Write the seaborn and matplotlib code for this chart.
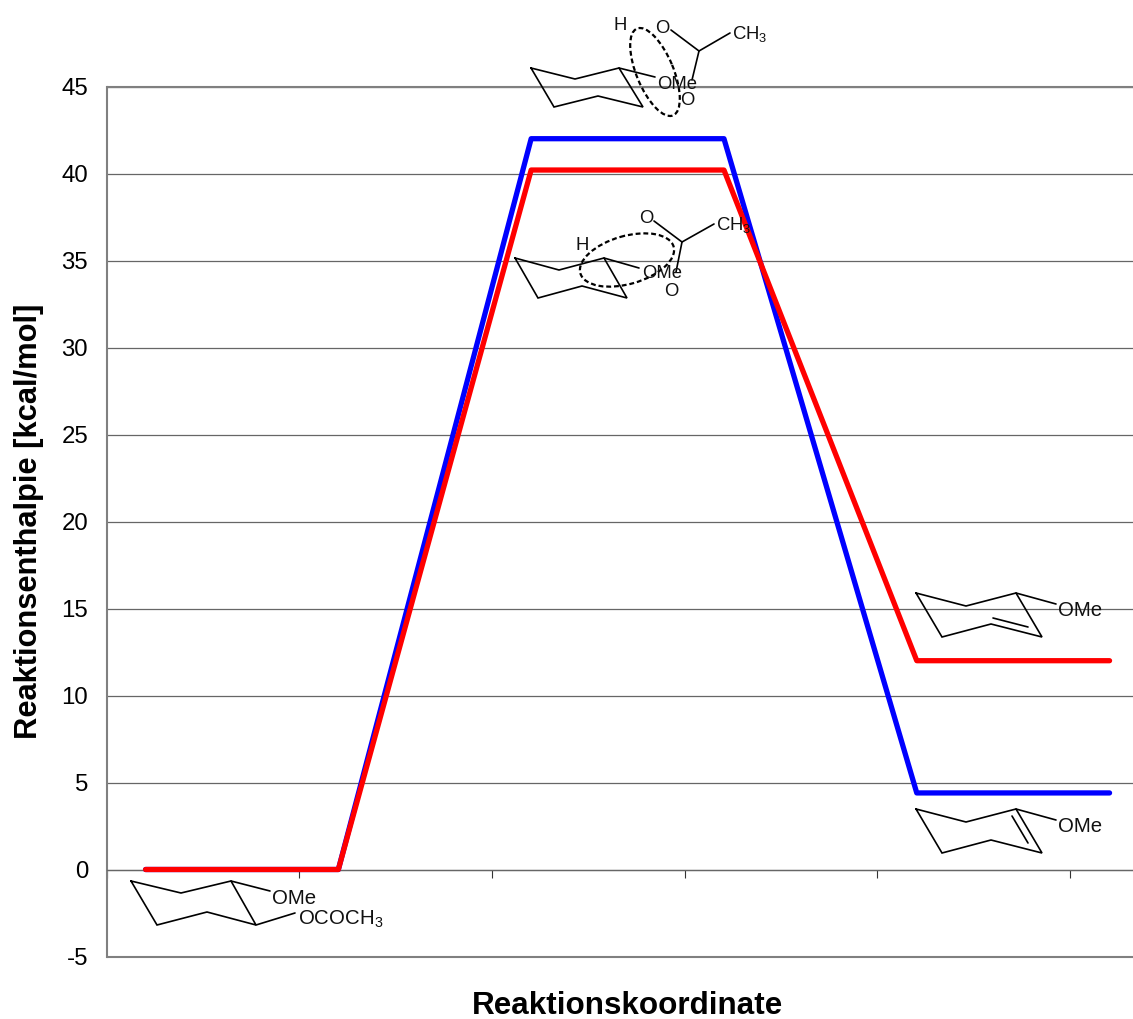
import matplotlib

matplotlib.use("Agg")
import matplotlib.pyplot as plt
import pandas as pd
import seaborn as sns
from matplotlib.patches import Ellipse

# reaction path
x_points = [1, 2, 3, 4, 5, 6]
blue_values = [0, 0, 42, 42, 4.4, 4.4]
red_values = [0, 0, 40.2, 40.2, 12, 12]
y_ticks = list(range(-5, 50, 5))
x_ticks = [0.8, 1.798, 2.796, 3.798, 4.796, 5.796]

WIDTH, HEIGHT = 1133, 1019
DPI = 100
LINE = "#000000"
GRID = "#666666"
SPINE = "#808080"

# structure drawings, in image pixels
ring_top = [(531, 68), (575, 79), (619, 68), (643, 107), (598, 96), (554, 107)]
ring_mid = [(515, 258), (559, 270), (604, 258), (627, 298), (582, 286), (538, 298)]
ring_start = [(131, 881), (181, 893), (231, 881), (256, 925), (207, 912), (157, 925)]
ring_red = [(916, 593), (966, 606), (1016, 593), (1042, 637), (991, 624), (942, 637)]
ring_blue = [(916, 809), (966, 822), (1016, 809), (1042, 853), (991, 840), (942, 853)]

bonds = [
    [(619, 68), (655, 77)],
    [(671, 30), (699, 51), (730, 33)],
    [(699, 51), (692, 80)],
    [(604, 258), (639, 268)],
    [(654, 221), (682, 242), (714, 224)],
    [(682, 242), (676, 272)],
    [(231, 881), (270, 891)],
    [(256, 925), (295, 913)],
    [(1016, 593), (1056, 604)],
    [(993, 618), (1028, 627)],
    [(1016, 809), (1056, 820)],
    [(1012, 816), (1028, 843)],
]

# label, x, y, font size
atoms = [
    ("H", 620, 25, 13.3),
    ("O", 662, 28, 13.3),
    (r"CH$\mathregular{_3}$", 732, 34, 13.3),
    ("OMe", 657, 84, 13.3),
    ("O", 687, 100, 13.3),
    ("H", 582, 245, 13.3),
    ("O", 646, 218, 13.3),
    (r"CH$\mathregular{_3}$", 716, 225, 13.3),
    ("OMe", 642, 274, 13.3),
    ("O", 671, 291, 13.3),
    ("OMe", 272, 898, 14.7),
    (r"OCOCH$\mathregular{_3}$", 298, 919, 14.7),
    ("OMe", 1058, 610, 14.7),
    ("OMe", 1058, 826, 14.7),
]

# (centre, long axis, short axis, angle in image coords)
orbitals = [((655, 72), 94, 37, 67.5), ((627, 260), 97, 48, -16)]


def draw_chart(ax):
    df = pd.concat(
        [
            pd.DataFrame({"x": x_points, "y": blue_values, "path": "blue"}),
            pd.DataFrame({"x": x_points, "y": red_values, "path": "red"}),
        ]
    )
    sns.lineplot(
        data=df,
        x="x",
        y="y",
        hue="path",
        palette={"blue": "#0000ff", "red": "#ff0000"},
        linewidth=3.8,
        solid_capstyle="round",
        solid_joinstyle="round",
        sort=False,
        errorbar=None,
        legend=False,
        zorder=3,
        ax=ax,
    )

    ax.set_xlim(0.8, 0.8 + (WIDTH - 107) / 192.8)
    ax.set_ylim(-5, 45)
    ax.set_yticks(y_ticks)
    ax.set_xticks(x_ticks)
    ax.set_xticklabels([])
    ax.tick_params(axis="y", labelsize=17.3, length=0, pad=13.5, labelcolor="black", left=True)
    ax.tick_params(axis="x", length=5.5, width=0.8, color="#333333", bottom=True, direction="out")
    ax.grid(axis="y", color=GRID, linewidth=0.9, zorder=1)
    ax.grid(axis="x", visible=False)

    # the x axis crosses at zero, as in a spreadsheet chart
    ax.spines["top"].set_visible(False)
    ax.spines["right"].set_visible(False)
    ax.spines["bottom"].set_position(("data", 0))
    ax.spines["bottom"].set_color(GRID)
    ax.spines["bottom"].set_linewidth(0.9)
    ax.spines["left"].set_color(SPINE)
    ax.spines["left"].set_linewidth(1.5)
    for level in [y_ticks[0], y_ticks[-1]]:
        ax.axhline(level, color=SPINE, linewidth=1.5, clip_on=False, zorder=1)

    ax.set_xlabel("")
    ax.set_ylabel("")


def draw_structures(fig):
    over = fig.add_axes([0, 0, 1, 1], zorder=5)
    over.set_xlim(0, WIDTH)
    over.set_ylim(HEIGHT, 0)
    over.axis("off")
    over.patch.set_alpha(0)

    for ring in [ring_top, ring_mid, ring_start, ring_red, ring_blue]:
        closed = ring + ring[:1]
        over.plot(*zip(*closed), color=LINE, linewidth=1.2, solid_joinstyle="miter")
    for bond in bonds:
        over.plot(*zip(*bond), color=LINE, linewidth=1.2)
    for centre, long_axis, short_axis, angle in orbitals:
        over.add_patch(
            Ellipse(
                centre,
                long_axis,
                short_axis,
                angle=angle,
                fill=False,
                edgecolor=LINE,
                linewidth=1.6,
                linestyle=(0, (2.2, 1.3)),
            )
        )
    for label, x, y, size in atoms:
        over.text(
            x, y, label, fontsize=size, color="#111111",
            ha="left" if len(label) > 1 else "center", va="center",
        )

    over.text(
        29, 521, "Reaktionsenthalpie [kcal/mol]",
        fontsize=22.2, fontweight="bold", color="black", rotation=90, ha="center", va="center",
    )
    over.text(
        627, 1006, "Reaktionskoordinate",
        fontsize=22.6, fontweight="bold", color="black", ha="center", va="center",
    )


def main():
    sns.set_theme(style="white")
    plt.rcParams["font.family"] = ["Liberation Sans", "DejaVu Sans"]
    plt.rcParams["mathtext.fontset"] = "custom"
    plt.rcParams["mathtext.rm"] = "Liberation Sans"
    plt.rcParams["axes.unicode_minus"] = False

    fig = plt.figure(figsize=(WIDTH / DPI, HEIGHT / DPI), dpi=DPI)
    ax = fig.add_axes(
        [107 / WIDTH, (HEIGHT - 956.5) / HEIGHT, (WIDTH - 107) / WIDTH, (956.5 - 86.5) / HEIGHT]
    )
    draw_chart(ax)
    draw_structures(fig)
    fig.savefig("out.png", dpi=DPI)
    plt.close(fig)


if __name__ == "__main__":
    main()
